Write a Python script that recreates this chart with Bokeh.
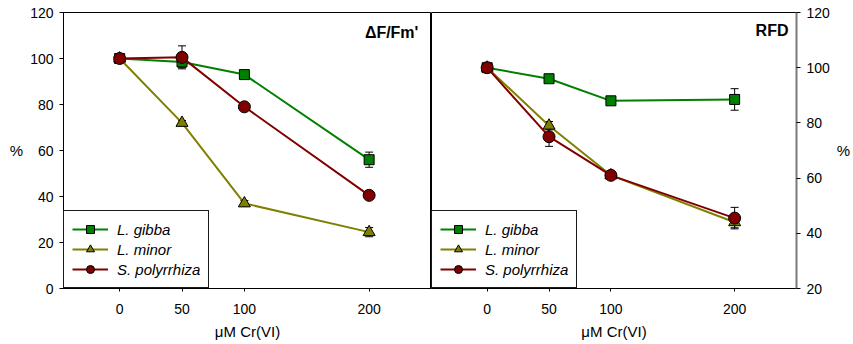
from bokeh.plotting import figure
from bokeh.layouts import row
from bokeh.models import Range1d, FixedTicker, Whisker, TeeHead, ColumnDataSource, Label
from bokeh.embed import file_html
from bokeh.resources import INLINE

# ---- data ----
conc = [0, 50, 100, 200]
x_ticks = [0, 50, 100, 200]
species = ["L. gibba", "L. minor", "S. polyrrhiza"]

dffm_gibba = [100, 98.5, 93, 56]
dffm_gibba_err = [1, 2.5, 1.5, 3.3]
dffm_minor = [100, 72, 37, 24.5]
dffm_minor_err = [1, 1, 1.2, 2]
dffm_poly = [100, 100.5, 79, 40.5]
dffm_poly_err = [1.5, 5, 1, 1]

rfd_gibba = [100, 96, 88, 88.5]
rfd_gibba_err = [1, 1, 1.5, 3.9]
rfd_minor = [100, 79, 61, 44]
rfd_minor_err = [1, 1.5, 1, 2]
rfd_poly = [100, 75, 61, 45.5]
rfd_poly_err = [1, 3.5, 1.5, 3.9]

left_y_ticks = [0, 20, 40, 60, 80, 100, 120]
right_y_ticks = [20, 40, 60, 80, 100, 120]

colors = ["#008000", "#808000", "#800000"]
markers = ["square", "triangle", "circle"]
msizes = [10, 12, 12]

FONT = "Liberation Sans"


def style_axis(ax):
    ax.major_label_text_font = FONT
    ax.major_label_text_font_size = "14px"
    ax.major_label_text_color = "black"
    ax.axis_label_text_font = FONT
    ax.axis_label_text_font_size = "15px"
    ax.axis_label_text_font_style = "normal"
    ax.axis_label_text_color = "black"
    ax.minor_tick_line_color = None
    ax.major_tick_in = 0
    ax.axis_line_color = "black"
    ax.major_tick_line_color = "black"


def make_panel(series, errs, yrange, yticks, title, tx, ty, side):
    if side == "left":
        p = figure(width=431, height=344, output_backend="svg", toolbar_location=None,
                   x_range=Range1d(-45, 250), y_range=Range1d(*yrange),
                   min_border_left=63, min_border_right=0, min_border_top=12,
                   min_border_bottom=56, y_axis_location="left")
    else:
        p = figure(width=422, height=344, output_backend="svg", toolbar_location=None,
                   x_range=Range1d(-45, 250), y_range=Range1d(*yrange),
                   min_border_left=0, min_border_right=53, min_border_top=12,
                   min_border_bottom=56, y_axis_location="right")
    p.xgrid.visible = False
    p.ygrid.visible = False
    p.outline_line_color = "black"
    p.outline_line_width = 1
    p.background_fill_color = "white"
    p.border_fill_color = "white"

    p.xaxis.ticker = FixedTicker(ticks=x_ticks)
    p.yaxis.ticker = FixedTicker(ticks=yticks)
    style_axis(p.xaxis[0])
    style_axis(p.yaxis[0])
    p.xaxis.axis_label = "μM Cr(VI)"
    p.xaxis.major_tick_out = 3
    p.xaxis.major_label_standoff = 12
    p.xaxis.axis_label_standoff = 6
    p.yaxis.axis_label = "%"
    p.yaxis.axis_label_orientation = "horizontal"
    p.yaxis.major_tick_out = 4
    p.yaxis.major_label_standoff = 6
    p.yaxis.axis_label_standoff = 4
    if side == "right":
        p.yaxis.axis_line_color = "#7a7a7a"
        p.yaxis.axis_line_width = 2

    for vals, err, name, c, m, s in zip(series, errs, species, colors, markers, msizes):
        src = ColumnDataSource(dict(
            x=conc, y=vals,
            upper=[v + e for v, e in zip(vals, err)],
            lower=[v - e for v, e in zip(vals, err)]))
        w = Whisker(base="x", upper="upper", lower="lower", source=src,
                    line_color="black", line_width=1,
                    upper_head=TeeHead(size=8, line_color="black", line_width=1),
                    lower_head=TeeHead(size=8, line_color="black", line_width=1))
        p.add_layout(w)
        p.line("x", "y", source=src, line_color=c, line_width=2, legend_label=name)
        p.scatter("x", "y", source=src, marker=m, size=s, fill_color=c,
                  line_color="black", line_width=1, legend_label=name)

    lg = p.legend[0]
    lg.location = "bottom_left"
    lg.margin = 0
    lg.padding = 8
    lg.spacing = 0
    lg.glyph_height = 20
    lg.label_height = 20
    lg.glyph_width = 36
    lg.label_standoff = 9
    lg.label_text_font = FONT
    lg.label_text_font_style = "italic"
    lg.label_text_font_size = "15px"
    lg.label_text_color = "black"
    lg.border_line_color = "#1a1a1a"
    lg.border_line_width = 1
    lg.border_line_alpha = 1
    lg.background_fill_color = "white"
    lg.background_fill_alpha = 1

    p.add_layout(Label(x=tx, y=ty, text=title, text_align="right", text_baseline="middle",
                       text_font=FONT, text_font_style="bold", text_font_size="16px",
                       text_color="black"))
    return p


p1 = make_panel([dffm_gibba, dffm_minor, dffm_poly],
                [dffm_gibba_err, dffm_minor_err, dffm_poly_err],
                (0, 120), left_y_ticks, "ΔF/Fm'", 239.5, 111.3, "left")
p2 = make_panel([rfd_gibba, rfd_minor, rfd_poly],
                [rfd_gibba_err, rfd_minor_err, rfd_poly_err],
                (20, 120), right_y_ticks, "RFD", 243.5, 113.5, "right")

layout = row(p1, p2, spacing=0)
open("out.html", "w").write(file_html(layout, INLINE))
